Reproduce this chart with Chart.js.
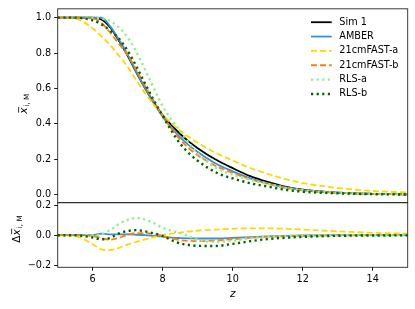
<!DOCTYPE html>
<html>
<head>
<meta charset="utf-8">
<script src="https://cdn.jsdelivr.net/npm/chart.js@4.4.1/dist/chart.umd.min.js"></script>
<style>
  html, body { margin: 0; padding: 0; background: #fff; }
  #wrap { width: 415px; height: 309px; }
</style>
</head>
<body>
<div id="wrap"><canvas id="reion" width="415" height="309"></canvas></div>
<script>
// redshift grid shared by every curve
var zGrid = [5, 5.5, 6, 6.25, 6.5, 6.75, 7, 7.25, 7.5, 7.75, 8, 8.25, 8.5, 8.75, 9, 9.5, 10, 10.5, 11, 11.5, 12, 13, 14, 15];

// mean neutral fraction, top panel
var sim1     = [1.0, 1.0, 1.0, 0.99, 0.945, 0.87, 0.785, 0.69, 0.6, 0.52, 0.45, 0.393, 0.343, 0.3, 0.263, 0.2, 0.15, 0.105, 0.072, 0.045, 0.028, 0.012, 0.005, 0.002];
var amber    = [1.0, 1.0, 1.0, 1.0, 0.951, 0.875, 0.79, 0.693, 0.6, 0.515, 0.44, 0.377, 0.324, 0.279, 0.241, 0.178, 0.132, 0.092, 0.064, 0.041, 0.026, 0.012, 0.005, 0.002];
var fastA    = [1.0, 0.995, 0.94, 0.895, 0.845, 0.785, 0.722, 0.645, 0.572, 0.507, 0.451, 0.403, 0.361, 0.325, 0.293, 0.238, 0.193, 0.151, 0.118, 0.088, 0.066, 0.038, 0.021, 0.013];
var fastB    = [1.0, 1.0, 0.995, 0.97, 0.915, 0.852, 0.789, 0.704, 0.614, 0.527, 0.446, 0.373, 0.31, 0.262, 0.223, 0.164, 0.123, 0.087, 0.062, 0.039, 0.025, 0.011, 0.005, 0.002];
var rlsA     = [1.0, 1.0, 1.0, 0.995, 0.98, 0.945, 0.888, 0.806, 0.705, 0.6, 0.5, 0.423, 0.358, 0.292, 0.233, 0.155, 0.113, 0.085, 0.062, 0.039, 0.025, 0.011, 0.005, 0.002];
var rlsB     = [1.0, 1.0, 0.985, 0.962, 0.927, 0.882, 0.813, 0.724, 0.626, 0.532, 0.445, 0.36, 0.288, 0.234, 0.192, 0.128, 0.092, 0.065, 0.046, 0.028, 0.017, 0.008, 0.003, 0.001];

// residuals against Sim 1, bottom panel
var dAmber   = [0, 0, 0, 0.01, 0.006, 0.005, 0.005, 0.003, 0, -0.005, -0.01, -0.016, -0.019, -0.021, -0.022, -0.022, -0.018, -0.013, -0.008, -0.004, -0.002, 0, 0, 0];
var dFastA   = [0, -0.005, -0.06, -0.095, -0.1, -0.085, -0.063, -0.045, -0.028, -0.013, 0.001, 0.01, 0.018, 0.025, 0.03, 0.038, 0.043, 0.046, 0.046, 0.043, 0.038, 0.026, 0.016, 0.011];
var dFastB   = [0, 0, -0.005, -0.02, -0.03, -0.018, 0.004, 0.014, 0.014, 0.007, -0.004, -0.02, -0.033, -0.038, -0.04, -0.036, -0.027, -0.018, -0.01, -0.006, -0.003, -0.001, 0, 0];
var dRlsA    = [0, 0, 0, 0.005, 0.035, 0.075, 0.103, 0.116, 0.105, 0.08, 0.05, 0.03, 0.015, -0.008, -0.03, -0.045, -0.037, -0.02, -0.01, -0.006, -0.003, -0.001, 0, 0];
var dRlsB    = [0, 0, -0.015, -0.028, -0.018, 0.012, 0.028, 0.034, 0.026, 0.012, -0.005, -0.033, -0.055, -0.066, -0.071, -0.072, -0.058, -0.04, -0.026, -0.017, -0.011, -0.004, -0.002, -0.001];

var seriesLabels = ['Sim 1', 'AMBER', '21cmFAST-a', '21cmFAST-b', 'RLS-a', 'RLS-b'];

// tick labels
var xTicks = [6, 8, 10, 12, 14];
var yTopTicks = [0, 0.2, 0.4, 0.6, 0.8, 1.0];
var yResTicks = [-0.2, 0, 0.2];

Chart.defaults.font.family = 'DejaVu Sans';
Chart.defaults.color = '#000';

function pts(ys) {
    return zGrid.map(function (zz, i) { return {x: zz, y: ys[i]}; });
}

var looks = [
    {color: '#000000', dash: [], width: 1.8},
    {color: '#3d8fd1', dash: [], width: 1.8},
    {color: '#ffd700', dash: [6, 3], width: 1.8},
    {color: '#ff7f0e', dash: [6, 3], width: 1.8},
    {color: '#90ee90', dash: [2.2, 3.4], width: 2.4},
    {color: '#006400', dash: [2.2, 3.4], width: 2.4}
];

function line(label, ys, look, axis, order) {
    return {
        label: label,
        data: pts(ys),
        yAxisID: axis,
        borderColor: look.color,
        borderDash: look.dash,
        borderWidth: look.width,
        borderCapStyle: 'butt',
        pointRadius: 0,
        fill: false,
        cubicInterpolationMode: 'monotone',
        order: order
    };
}

var topSeries = [sim1, amber, fastA, fastB, rlsA, rlsB];
var resSeries = [null, dAmber, dFastA, dFastB, dRlsA, dRlsB];
var datasets = [];
topSeries.forEach(function (ys, i) {
    datasets.push(line(seriesLabels[i], ys, looks[i], 'yTop', 6 - i));
});
resSeries.forEach(function (ys, i) {
    if (ys) datasets.push(line(seriesLabels[i] + ' diff', ys, looks[i], 'yRes', 6 - i));
});

function setTicks(list) {
    return function (scale) {
        scale.ticks = list.map(function (v) { return {value: v}; });
    };
}
function fmt1(v) {
    return v.toFixed(1).replace('-', '\u2212');
}

var tickFont = {size: 9.7};
var gridOpts = {drawOnChartArea: false, drawTicks: true, tickLength: 3.5, color: '#000', lineWidth: 0.9};

// panel frames
var framePlugin = {
    id: 'frame',
    afterDatasetsDraw: function (chart) {
        var ctx = chart.ctx, a = chart.chartArea;
        ctx.save();
        ctx.strokeStyle = '#262626';
        ctx.lineWidth = 0.9;
        ['yTop', 'yRes'].forEach(function (id) {
            var s = chart.scales[id];
            ctx.strokeRect(a.left, s.top, a.right - a.left, s.bottom - s.top);
        });
        ctx.restore();
    }
};

// matplotlib-like legend in the upper right of the top panel
var legendPlugin = {
    id: 'innerLegend',
    afterDraw: function (chart) {
        var ctx = chart.ctx, a = chart.chartArea;
        var x0 = a.right - 96.7, y0 = a.top + 13.4, step = 14.35;
        ctx.save();
        ctx.font = '9.7px "DejaVu Sans"';
        ctx.textBaseline = 'middle';
        ctx.fillStyle = '#000';
        for (var i = 0; i < 6; i++) {
            var ds = chart.data.datasets[i];
            var y = y0 + i * step;
            ctx.beginPath();
            ctx.setLineDash(ds.borderDash);
            ctx.lineWidth = ds.borderWidth;
            ctx.strokeStyle = ds.borderColor;
            ctx.moveTo(x0, y);
            ctx.lineTo(x0 + 20.7, y);
            ctx.stroke();
            ctx.fillText(ds.label, x0 + 28.3, y);
        }
        ctx.restore();
    }
};

// rotated y labels with bar and subscript
function drawYLabel(ctx, cx, cy, prefix) {
    ctx.save();
    ctx.translate(cx, cy);
    ctx.rotate(-Math.PI / 2);
    var mainFont = 'italic 10.5px "DejaVu Sans"';
    var preFont = '10.5px "DejaVu Sans"';
    var subFont = '7.3px "DejaVu Sans"';
    ctx.font = preFont;
    var wp = prefix ? ctx.measureText(prefix).width : 0;
    ctx.font = mainFont;
    var wx = ctx.measureText('x').width;
    ctx.font = subFont;
    var ws = ctx.measureText('i, M').width;
    var total = wp + wx + 1 + ws;
    var x = -total / 2;
    ctx.fillStyle = '#000';
    ctx.textBaseline = 'alphabetic';
    ctx.textAlign = 'left';
    if (prefix) {
        ctx.font = preFont;
        ctx.fillText(prefix, x, 0);
        x += wp;
    }
    ctx.font = mainFont;
    ctx.fillText('x', x, 0);
    ctx.fillRect(x + 1.2, -8.2, wx - 0.6, 0.8);
    x += wx + 1;
    ctx.font = subFont;
    ctx.fillText('i, M', x, 2.2);
    ctx.restore();
}

var yLabelPlugin = {
    id: 'yLabels',
    afterDraw: function (chart) {
        var t = chart.scales.yTop, r = chart.scales.yRes;
        drawYLabel(chart.ctx, 26.5, (t.top + t.bottom) / 2 - 2, '');
        drawYLabel(chart.ctx, 19.5, (r.top + r.bottom) / 2 - 6, '\u0394');
    }
};

new Chart(document.getElementById('reion'), {
    type: 'line',
    data: {datasets: datasets},
    options: {
        responsive: false,
        animation: false,
        devicePixelRatio: 1,
        layout: {padding: {top: 6.7, right: 7.3, left: 0, bottom: 0}},
        plugins: {legend: {display: false}, tooltip: {enabled: false}},
        scales: {
            x: {
                type: 'linear',
                min: 5,
                max: 15,
                afterBuildTicks: setTicks(xTicks),
                afterFit: function (s) { s.height = 41.7; },
                ticks: {font: tickFont, padding: 2.5, maxRotation: 0, callback: function (v) { return String(v); }},
                grid: gridOpts,
                border: {display: false},
                title: {display: true, text: 'z', font: {size: 10.5, style: 'italic'}, padding: {top: 0, bottom: 8}}
            },
            yRes: {
                type: 'linear',
                position: 'left',
                stack: 'panels',
                stackWeight: 1,
                min: -0.215,
                max: 0.218,
                afterBuildTicks: setTicks(yResTicks),
                afterFit: function (s) { s.width = 57.7; },
                ticks: {font: tickFont, padding: 3, callback: fmt1},
                grid: gridOpts,
                border: {display: false}
            },
            yTop: {
                type: 'linear',
                position: 'left',
                stack: 'panels',
                stackWeight: 3,
                min: -0.045,
                max: 1.05,
                afterBuildTicks: setTicks(yTopTicks),
                afterFit: function (s) { s.width = 57.7; },
                ticks: {font: tickFont, padding: 3, callback: fmt1},
                grid: gridOpts,
                border: {display: false}
            }
        }
    },
    plugins: [framePlugin, legendPlugin, yLabelPlugin]
});
</script>
</body>
</html>
